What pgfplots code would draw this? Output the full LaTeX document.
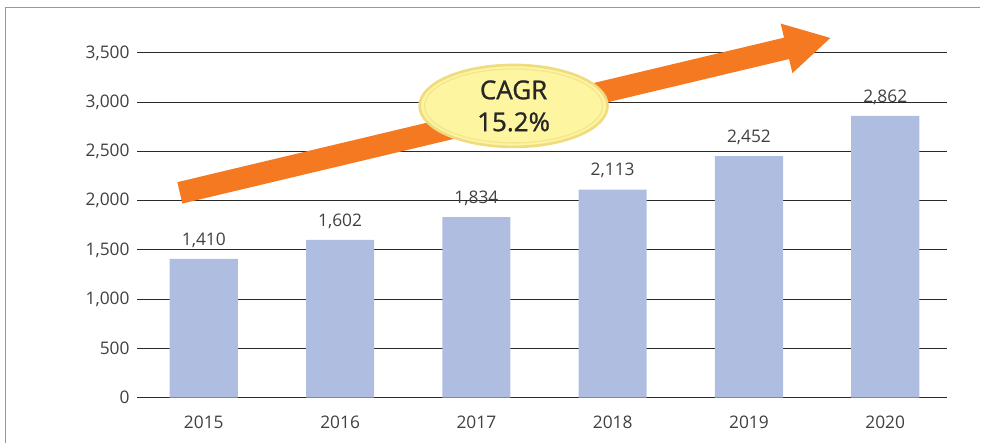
\documentclass[border=0pt]{standalone}
\usepackage{pgfplots}
\pgfplotsset{compat=1.18}
\usepackage{fontspec}
\setmainfont{Open Sans}
\newfontfamily\cagrfont{Open Sans}[FakeBold=1]
\definecolor{barc}{HTML}{AEBDE0}
\definecolor{tickc}{HTML}{404040}
\definecolor{arrowc}{HTML}{F47920}
\definecolor{ellfill}{HTML}{FDF5A0}
\definecolor{elldraw}{HTML}{F0DC80}
\definecolor{gridc}{HTML}{2A2A2A}
\definecolor{framec}{HTML}{999999}
\begin{document}
\begin{tikzpicture}[x=0.75pt,y=0.75pt]
\path (0,0) rectangle (981,443);
\draw[color=framec, line width=1.2pt] (5.5,0) -- (5.5,435.5) -- (981,435.5);
\begin{axis}[
  at={(102.75pt,33.75pt)}, anchor=south west,
  scale only axis, width=608.25pt, height=258.75pt,
  xmin=-0.491, xmax=5.455, ymin=0, ymax=3500,
  ytick={0,500,...,3500},
  xtick=data,
  xticklabels={2015,2016,2017,2018,2019,2020},
  axis line style={draw=none},
  major tick length=0pt,
  ymajorgrids, grid style={gridc, line width=0.8pt},
  /pgf/number format/.cd, 1000 sep={,}, assume math mode=true,
  /pgfplots/.cd,
  ticklabel style={font=\fontsize{13}{15}\selectfont, text=tickc},
  yticklabel style={xshift=-2pt},
  xticklabel style={yshift=-10.5pt},
  ybar, bar width=0.5,
  nodes near coords,
  every node near coord/.append style={font=\fontsize{13}{15}\selectfont, text=tickc, yshift=5pt},
  clip=false,
]
\addplot[fill=barc, draw=none] coordinates {(0,1410) (1,1602) (2,1834) (3,2113) (4,2452) (5,2862)};
\end{axis}
\fill[arrowc] (177.5,260.7) -- (784.7,405.3) -- (781.3,419.4) -- (831,405) -- (793.1,369.8) -- (789.7,383.9) -- (182.5,239.3) -- cycle;
\filldraw[fill=ellfill, draw=elldraw, line width=2pt] (514,337) ellipse [x radius=94, y radius=41];
\draw[draw=elldraw!60!ellfill, line width=1pt] (514,337) ellipse [x radius=89, y radius=37];
\node[text=black!85, font=\cagrfont\fontsize{19.5}{24}\selectfont] at (514,353) {CAGR};
\node[text=black!85, font=\cagrfont\fontsize{19.5}{24}\selectfont] at (514,321) {15.2\%};
\end{tikzpicture}
\end{document}
